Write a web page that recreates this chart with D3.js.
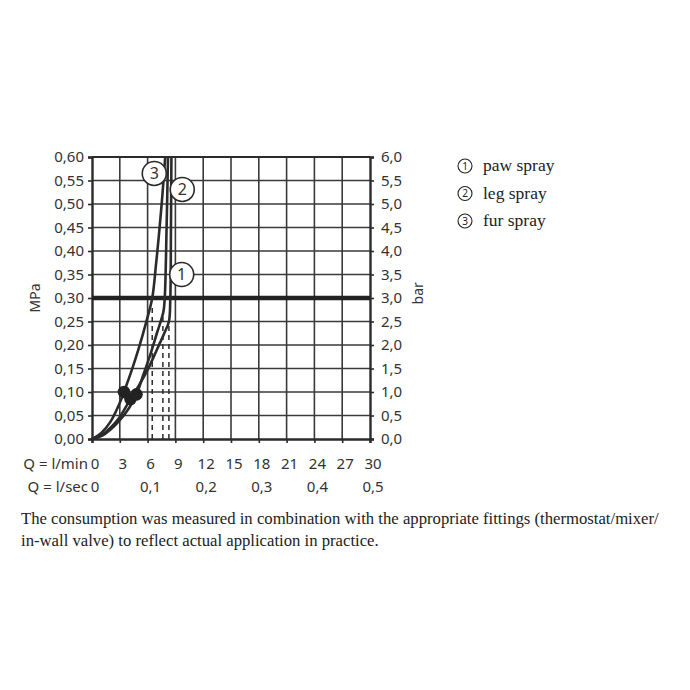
<!DOCTYPE html>
<html>
<head>
<meta charset="utf-8">
<script src="https://cdn.jsdelivr.net/npm/d3@7"></script>
<style>
  html, body { margin: 0; padding: 0; background: #fff; }
  svg { display: block; }
</style>
</head>
<body>
<svg id="chart" width="690" height="690"></svg>
<script>
// Flow rate ticks (l/min) and matching l/sec labels
const flowTicks = [0, 3, 6, 9, 12, 15, 18, 21, 24, 27, 30];
const flowSecTicks = [0, 6, 12, 18, 24, 30];
const flowSecLabels = ["0", "0,1", "0,2", "0,3", "0,4", "0,5"];
// Pressure ticks in MPa (right axis shows the same in bar)
const pressureTicks = [0, 0.05, 0.10, 0.15, 0.20, 0.25, 0.30, 0.35, 0.40, 0.45, 0.50, 0.55, 0.60];

// Spray modes
const sprayNames = ["paw spray", "leg spray", "fur spray"];
const sprayIds = ["1", "2", "3"];

// Pressure curves [flow l/min, pressure MPa]
const pawSpray = [[0,0],[1,0.008],[2,0.024],[3,0.047],[4.15,0.085],[5,0.112],[6,0.147],[7,0.19],[7.8,0.225],[8.3,0.25],[8.45,0.30],[8.52,0.45],[8.57,0.60]];
const legSpray = [[0,0],[1,0.006],[2,0.02],[3,0.04],[4,0.066],[4.8,0.095],[5.6,0.14],[6.3,0.18],[7,0.225],[7.7,0.27],[7.85,0.30],[8.05,0.45],[8.2,0.60]];
const furSpray = [[0,0],[1,0.013],[2,0.037],[3,0.077],[3.45,0.10],[4.3,0.147],[5,0.19],[5.8,0.245],[6.5,0.30],[6.9,0.37],[7.25,0.44],[7.6,0.52],[7.9,0.60]];

// Marked operating points [flow, pressure]
const pawPoint = [4.15, 0.085];
const legPoint = [4.8, 0.095];
const furPoint = [3.45, 0.10];

// Flow at 0.3 MPa (dashed drop lines) and the pressure where each drop line ends
const flowAtRef = [8.3, 7.65, 6.5];
const dropTop = [0.25, 0.27, 0.28];
const refPressure = 0.30;

const svg = d3.select("#chart");
const x = d3.scaleLinear().domain([0, 30]).range([92, 370]);
const y = d3.scaleLinear().domain([0, 0.6]).range([439, 157]);
const ink = "#2b2b2b";
const sans = "'Noto Sans', 'DejaVu Sans', sans-serif";
const serif = "'Liberation Serif', 'Times New Roman', serif";
const fs = 15;

// Grid
const grid = svg.append("g").attr("stroke", "#3a3a3a").attr("stroke-width", 1.6);
grid.selectAll("line.v").data(flowTicks.slice(1, -1)).join("line")
  .attr("x1", d => x(d)).attr("x2", d => x(d))
  .attr("y1", y(0)).attr("y2", y(0.6));
grid.selectAll("line.h").data(pressureTicks.slice(1)).join("line")
  .attr("x1", x(0)).attr("x2", x(30))
  .attr("y1", d => y(d)).attr("y2", d => y(d));

// Axes
const fmt2 = d => d3.format(".2f")(d).replace(".", ",");
const fmt1 = d => d3.format(".1f")(d * 10).replace(".", ",");

const left = svg.append("g").attr("transform", `translate(${x(0)},0)`)
  .call(d3.axisLeft(y).tickValues(pressureTicks).tickFormat(fmt2).tickSize(4).tickPadding(4));
const right = svg.append("g").attr("transform", `translate(${x(30)},0)`)
  .call(d3.axisRight(y).tickValues(pressureTicks).tickFormat(fmt1).tickSize(4).tickPadding(7));
const bottom = svg.append("g").attr("transform", `translate(0,${y(0)})`)
  .call(d3.axisBottom(x).tickValues(flowTicks).tickFormat("").tickSize(4));

[left, right, bottom].forEach(g => {
  g.select(".domain").attr("stroke", ink).attr("stroke-width", 2.4);
  g.selectAll(".tick line").attr("stroke", ink).attr("stroke-width", 1.6);
  g.selectAll(".tick text").attr("fill", "#333").attr("font-family", sans).attr("font-size", fs);
});
// top frame line
svg.append("line").attr("x1", x(0)).attr("x2", x(30)).attr("y1", y(0.6)).attr("y2", y(0.6))
  .attr("stroke", ink).attr("stroke-width", 2);

// Flow labels below the axis
svg.append("text").attr("x", 88).attr("y", 469).attr("text-anchor", "end")
  .attr("font-family", sans).attr("font-size", fs).attr("fill", "#333").text("Q = l/min");
svg.append("g").selectAll("text").data(flowTicks).join("text")
  .attr("x", d => x(d) + 3).attr("y", 469).attr("text-anchor", "middle")
  .attr("font-family", sans).attr("font-size", fs).attr("fill", "#333").text(d => d);
svg.append("text").attr("x", 88).attr("y", 492).attr("text-anchor", "end")
  .attr("font-family", sans).attr("font-size", fs).attr("fill", "#333").text("Q = l/sec");
svg.append("g").selectAll("text").data(flowSecTicks).join("text")
  .attr("x", d => x(d) + 3).attr("y", 492).attr("text-anchor", "middle")
  .attr("font-family", sans).attr("font-size", fs).attr("fill", "#333")
  .text((d, i) => flowSecLabels[i]);

// Unit titles
svg.append("text").attr("transform", `translate(40,${y(0.3)}) rotate(-90)`)
  .attr("text-anchor", "middle").attr("font-family", sans).attr("font-size", 14)
  .attr("fill", "#333").text("MPa");
svg.append("text").attr("transform", `translate(423,${y(0.31)}) rotate(-90)`)
  .attr("text-anchor", "middle").attr("font-family", sans).attr("font-size", 14)
  .attr("fill", "#333").text("bar");

// Reference pressure line
svg.append("line").attr("x1", x(0)).attr("x2", x(30))
  .attr("y1", y(refPressure)).attr("y2", y(refPressure))
  .attr("stroke", "#222").attr("stroke-width", 4.5);

// Dashed drop lines
svg.append("g").selectAll("line").data(flowAtRef).join("line")
  .attr("x1", d => x(d)).attr("x2", d => x(d))
  .attr("y1", y(0)).attr("y2", (d, i) => y(dropTop[i]))
  .attr("stroke", ink).attr("stroke-width", 1.5).attr("stroke-dasharray", "5,4");

// Curves
const line = d3.line().x(d => x(d[0])).y(d => y(d[1])).curve(d3.curveCatmullRom.alpha(0.5));
svg.append("g").selectAll("path").data([pawSpray, legSpray, furSpray]).join("path")
  .attr("d", line).attr("fill", "none").attr("stroke", ink).attr("stroke-width", 2.6);

// Operating points
svg.append("g").selectAll("circle").data([pawPoint, legPoint, furPoint]).join("circle")
  .attr("cx", d => x(d[0])).attr("cy", d => y(d[1])).attr("r", 6.3).attr("fill", "#222");

// Curve markers
const markers = [
  { id: sprayIds[0], at: [9.68, 0.350] },
  { id: sprayIds[1], at: [9.74, 0.531] },
  { id: sprayIds[2], at: [6.72, 0.565] }
];
const mk = svg.append("g").selectAll("g").data(markers).join("g")
  .attr("transform", d => `translate(${x(d.at[0])},${y(d.at[1])})`);
mk.append("circle").attr("r", 12).attr("fill", "#fff").attr("stroke", ink).attr("stroke-width", 1.6);
mk.append("text").attr("text-anchor", "middle").attr("dy", "0.36em")
  .attr("font-family", sans).attr("font-size", 16).attr("fill", "#333").text(d => d.id);

// Legend
const lg = svg.append("g").selectAll("g").data(sprayNames).join("g")
  .attr("transform", (d, i) => `translate(465,${166 + i * 27.5})`);
lg.append("circle").attr("r", 7).attr("fill", "none").attr("stroke", "#222").attr("stroke-width", 1.1);
lg.append("text").attr("text-anchor", "middle").attr("dy", "0.35em")
  .attr("font-family", sans).attr("font-size", 10).attr("fill", "#222").text((d, i) => sprayIds[i]);
lg.append("text").attr("x", 18).attr("dy", "0.3em")
  .attr("font-family", serif).attr("font-size", 17.5).attr("fill", "#222").text(d => d);

// Footnote
const note = [
  "The consumption was measured in combination with the appropriate fittings (thermostat/mixer/",
  "in-wall valve) to reflect actual application in practice."
];
svg.append("g").selectAll("text").data(note).join("text")
  .attr("x", 21).attr("y", (d, i) => 524 + i * 22)
  .attr("font-family", serif).attr("font-size", 16.7).attr("fill", "#222").text(d => d);
</script>
</body>
</html>
